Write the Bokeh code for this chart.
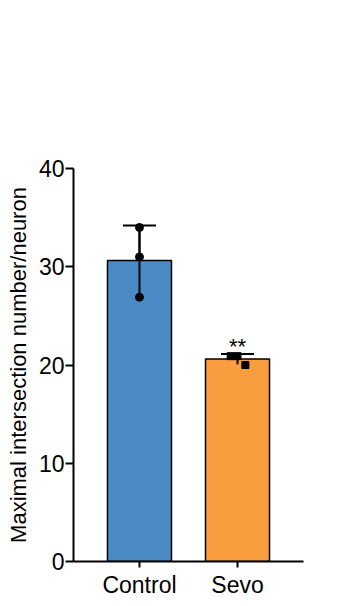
import numpy as np
from bokeh.plotting import figure
from bokeh.models import Range1d, ColumnDataSource, FixedTicker, Whisker
from bokeh.core.properties import value
from bokeh.embed import file_html
from bokeh.resources import INLINE

categories = ["Control", "Sevo"]
control_points = [34.0, 31.0, 26.9]
sevo_points = [20.9, 20.9, 20.0]
bar_colors = ["#4b8bc5", "#fa9d3e"]
y_ticks = [0, 10, 20, 30, 40]
significance = ["", "**"]

groups = [control_points, sevo_points]
means = [float(np.mean(g)) for g in groups]
sds = [float(np.std(g, ddof=1)) for g in groups]
xs = list(range(len(categories)))

FONT = "Liberation Sans"

p = figure(width=353, height=606, output_backend="svg", toolbar_location=None,
           x_range=Range1d(-0.673, 1.673), y_range=Range1d(0, 40))
p.min_border_left = 73
p.min_border_right = 50
p.min_border_top = 168
p.min_border_bottom = 45
p.outline_line_color = None
p.xgrid.visible = False
p.ygrid.visible = False
p.background_fill_color = "white"
p.border_fill_color = "white"

bars = ColumnDataSource(dict(x=xs, top=means, color=bar_colors))
p.vbar(x="x", top="top", width=0.653, bottom=0, source=bars,
       fill_color="color", line_color="black", line_width=1.5)

err = ColumnDataSource(dict(x=xs, upper=[m + s for m, s in zip(means, sds)],
                            lower=[m - s for m, s in zip(means, sds)]))
p.segment(x0="x", y0="lower", x1="x", y1="upper", source=err, line_color="black", line_width=2)
w = Whisker(base="x", upper="upper", lower="lower", source=err, line_width=2, line_color="black")
w.upper_head.size = 33
w.lower_head.size = 33
w.upper_head.line_width = 2
w.lower_head.line_width = 2
p.add_layout(w)

# individual points
p.scatter(x=[xs[0]] * len(control_points), y=control_points, marker="circle", size=8,
          color="black")
offsets = [-0.07, 0.0, 0.08]
p.scatter(x=[xs[1] + o for o in offsets], y=sevo_points, marker="square", size=7,
          color="black")

# significance
sig_y = [m + s for m, s in zip(means, sds)]
p.text(x=xs, y=sig_y, text=significance, text_align="center", text_baseline="alphabetic",
       y_offset=-7, text_font=value(FONT), text_font_size="22px", text_color="black")

# axes
p.xaxis.ticker = FixedTicker(ticks=xs)
p.xaxis.major_label_overrides = {i: c for i, c in enumerate(categories)}
p.yaxis.ticker = FixedTicker(ticks=y_ticks)
p.yaxis.axis_label = "Maximal intersection number/neuron"
for ax in (p.xaxis[0], p.yaxis[0]):
    ax.axis_line_width = 2
    ax.axis_line_color = "black"
    ax.major_tick_line_width = 2
    ax.major_tick_line_color = "black"
    ax.major_tick_in = 0
    ax.minor_tick_line_color = None
    ax.major_label_text_font = FONT
    ax.major_label_text_font_size = "23px"
    ax.major_label_text_color = "black"
p.yaxis.major_tick_out = 8
p.yaxis.major_label_standoff = 1
p.xaxis.major_tick_out = 6
p.xaxis.major_label_standoff = 4
p.yaxis.axis_label_text_font = FONT
p.yaxis.axis_label_text_font_size = "22px"
p.yaxis.axis_label_text_font_style = "normal"
p.yaxis.axis_label_text_color = "black"
p.yaxis.axis_label_standoff = 5

open("out.html", "w").write(file_html(p, INLINE))
